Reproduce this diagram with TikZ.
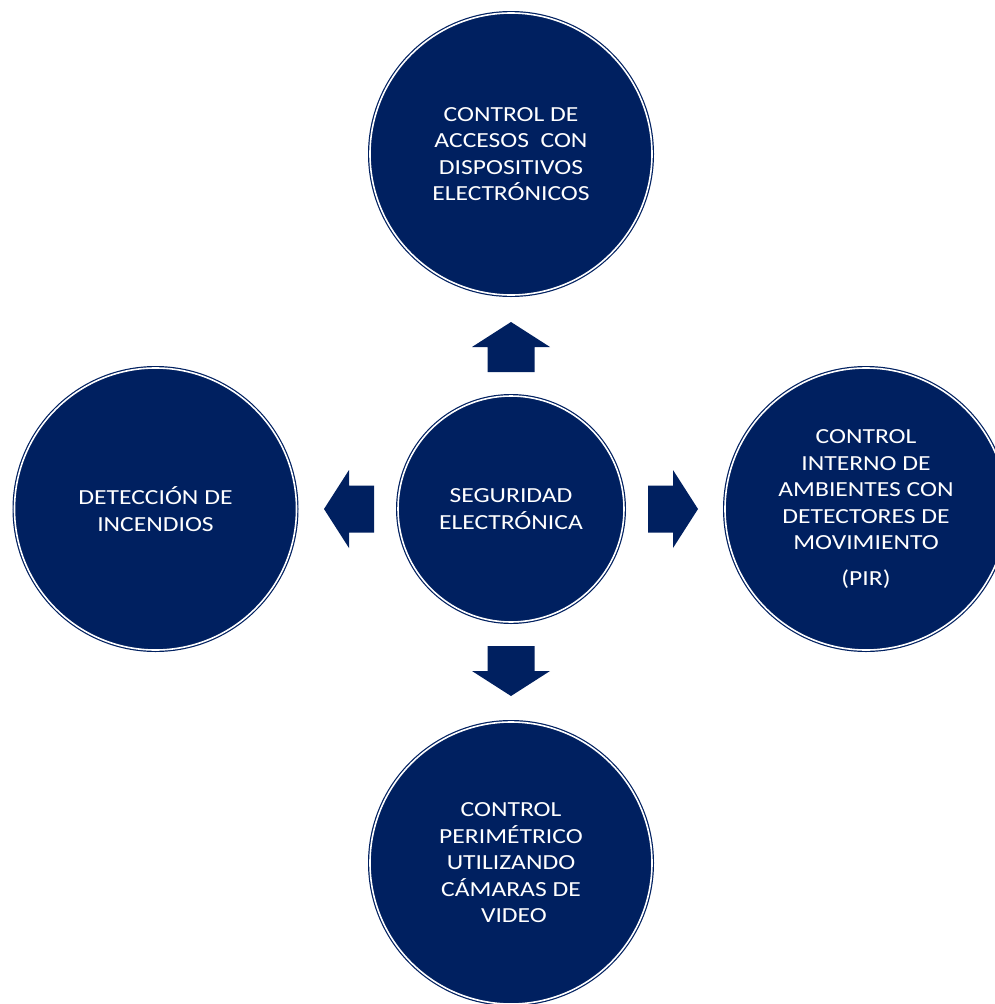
\documentclass[tikz,border=0pt]{standalone}
\usepackage{fontspec}
\setmainfont{Carlito}[FakeStretch=1.19]
\definecolor{navy}{HTML}{002060}
\begin{document}
\begin{tikzpicture}[x=1pt,y=-1pt,
  circ/.style={circle, fill=navy, draw=navy, line width=1.2pt, double=white, double distance=1.6pt,
    text=white, align=center, inner sep=0pt,
    font=\fontsize{21.5}{26.5}\selectfont},
  big/.style={circ, minimum size=282pt},
  small/.style={circ, minimum size=226pt},
  blockarrow/.style={fill=navy}]
\clip (0,0) rectangle (995,1004);
\fill[white] (0,0) rectangle (995,1004);
\node[small] (c) at (511,509) {SEGURIDAD\\ELECTRÓNICA};
\node[big] (t) at (511,154) {CONTROL DE\\ACCESOS\ \ CON\\DISPOSITIVOS\\ELECTRÓNICOS};
\node[big] (l) at (155.5,509) {DETECCIÓN DE\\INCENDIOS};
\node[big] (r) at (866,509) {CONTROL\\INTERNO DE\\AMBIENTES CON\\DETECTORES DE\\MOVIMIENTO\\[9pt](PIR)};
\node[big] (b) at (511,863) {CONTROL\\PERIMÉTRICO\\UTILIZANDO\\CÁMARAS DE\\\ VIDEO};
\foreach \a in {0,90,180,270}{
  \fill[blockarrow, shift={(c.center)}, rotate=\a]
    (-23.5,-137) -- (-23.5,-162) -- (-39,-162) -- (0,-187) -- (39,-162) -- (23.5,-162) -- (23.5,-137) -- cycle;
}
\end{tikzpicture}
\end{document}
